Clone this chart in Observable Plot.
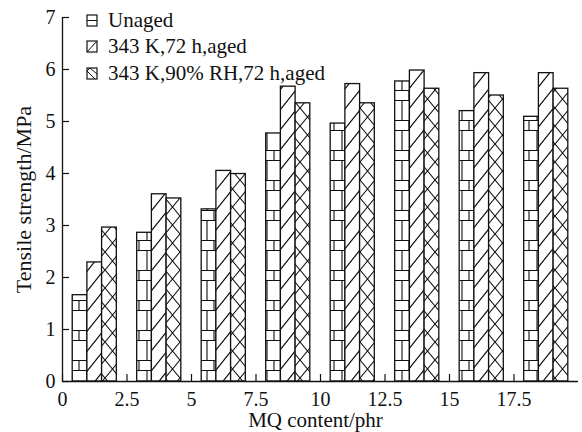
<!DOCTYPE html>
<html><head><meta charset="utf-8">
<script src="https://cdn.jsdelivr.net/npm/d3@7"></script>
<script src="https://cdn.jsdelivr.net/npm/@observablehq/plot@0.6"></script>
<style>body{margin:0;background:#fff} svg{display:block}</style>
</head><body><div id="chart"></div>
<script>
// ---- data ----
const groupPositions = [1.25, 3.75, 6.25, 8.75, 11.25, 13.75, 16.25, 18.75];
const unaged   = [1.66, 2.86, 3.31, 4.77, 4.96, 5.77, 5.20, 5.09];
const aged343  = [2.29, 3.60, 4.05, 5.67, 5.72, 5.98, 5.93, 5.93];
const agedRH   = [2.96, 3.52, 3.99, 5.35, 5.35, 5.63, 5.50, 5.63];
const seriesNames = ["Unaged", "343 K,72 h,aged", "343 K,90% RH,72 h,aged"];
const xTicks = [0, 2.5, 5, 7.5, 10, 12.5, 15, 17.5];
const yTicks = [0, 1, 2, 3, 4, 5, 6, 7];
const xLabel = "MQ content/phr";
const yLabel = "Tensile strength/MPa";

const barW = 0.57;
const seriesValues = [unaged, aged343, agedRH];
const patIds = ["patH", "patS", "patX"];
const rowsFor = k => groupPositions.map((p, i) => ({
  x1: p - 1.5 * barW + k * barW,
  x2: p - 1.5 * barW + (k + 1) * barW,
  y: seriesValues[k][i],
  series: seriesNames[k]
}));

const ink = "#111";
const serif = "Liberation Serif, Times New Roman, serif";
const plot = Plot.plot({
  width: 582, height: 432,
  marginLeft: 62, marginRight: 4, marginTop: 17, marginBottom: 51,
  x: {domain: [0, 20]},
  y: {domain: [0, 7]},
  style: {fontFamily: serif, fontSize: "20px", color: ink, background: "white"},
  marks: [
    ...[0, 1, 2].map(k => Plot.rectY(rowsFor(k), {x1: "x1", x2: "x2", y1: 0, y2: "y", fill: `url(#${patIds[k]})`, stroke: ink, strokeWidth: 1.3})),
    Plot.ruleY([0], {stroke: ink, strokeWidth: 1.3}),
    Plot.ruleX([0], {stroke: ink, strokeWidth: 1.3}),
    Plot.tickX(xTicks, {x: d => d, insetTop: 357, stroke: ink, strokeWidth: 1.2}),
    Plot.tickY(yTicks, {y: d => d, insetRight: 509, stroke: ink, strokeWidth: 1.2}),
    Plot.axisX({ticks: xTicks, tickSize: 0, tickPadding: 10, tickFormat: d => String(d), label: null}),
    Plot.axisY({ticks: yTicks, tickSize: 0, tickPadding: 7, tickFormat: d => String(d), label: null}),
    Plot.text([yLabel], {frameAnchor: "left", textAnchor: "middle", dx: -39, rotate: -90, fill: ink, fontSize: 22}),
    Plot.text([xLabel], {frameAnchor: "bottom", dx: -5, dy: 31, lineAnchor: "top", fill: ink, fontSize: 21})
  ]
});

const defs = `<defs>
<pattern id="patH" patternUnits="userSpaceOnUse" width="15" height="30">
  <rect width="15" height="30" fill="white"/>
  <path d="M0,0.5H15M0,10.5H15M12,10.5V30M4,0.5V10.5" stroke="${ink}" stroke-width="1.1" fill="none"/>
</pattern>
<pattern id="patS" patternUnits="userSpaceOnUse" width="16" height="20">
  <rect width="16" height="20" fill="white"/>
  <path d="M0,20L16,0M-4,5L4,-5M12,25L20,15" stroke="${ink}" stroke-width="1.2" fill="none"/>
</pattern>
<pattern id="patX" patternUnits="userSpaceOnUse" width="15" height="18">
  <rect width="15" height="18" fill="white"/>
  <path d="M0,0L15,18M15,0L0,18" stroke="${ink}" stroke-width="1.1" fill="none"/>
</pattern>
</defs>`;
plot.insertAdjacentHTML("afterbegin", defs);

// legend (inside top-left)
const svg = d3.select(plot);
const lg = svg.append("g").attr("font-family", serif).attr("font-size", 21).attr("fill", ink).attr("text-anchor", "start");
const baselines = [27, 53, 80];
seriesNames.forEach((name, k) => {
  const x0 = 87, y0 = baselines[k] - 12, w = 10, h = 11;
  const g = lg.append("g");
  g.append("rect").attr("x", x0).attr("y", y0).attr("width", w).attr("height", h)
    .attr("fill", "white").attr("stroke", ink).attr("stroke-width", 1.2);
  let d;
  if (k === 0) d = `M${x0},${y0 + h / 2}H${x0 + w}`;
  else if (k === 1) d = `M${x0},${y0 + h}L${x0 + w},${y0}`;
  else d = `M${x0},${y0 + 3}L${x0 + 3},${y0}M${x0},${y0 + 3}L${x0 + w - 2},${y0 + h}M${x0 + 3},${y0}L${x0 + w},${y0 + 6}`;
  g.append("path").attr("d", d).attr("stroke", ink).attr("stroke-width", 1).attr("fill", "none");
  lg.append("text").attr("x", 108).attr("y", baselines[k]).attr("text-anchor", "start").text(name);
});

document.getElementById("chart").appendChild(plot);
</script>
</body></html>
